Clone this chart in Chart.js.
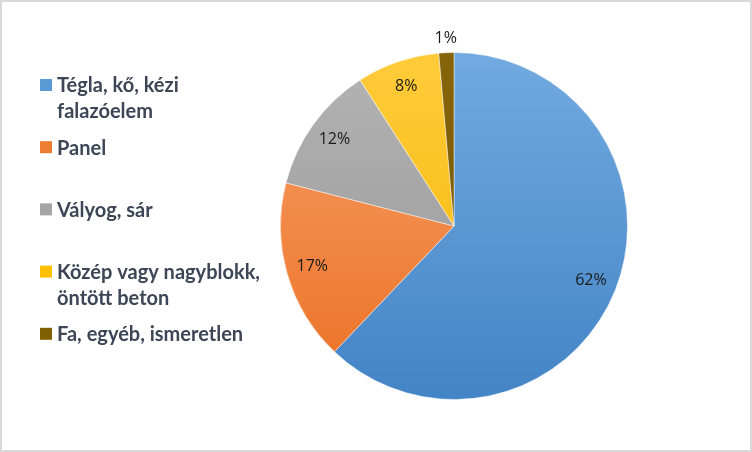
<!DOCTYPE html>
<html>
<head>
<meta charset="utf-8">
<script src="https://cdn.jsdelivr.net/npm/chart.js@4"></script>
<style>
  html, body { margin: 0; padding: 0; background: #fff; }
  #wrap { width: 752px; height: 452px; position: relative; }
</style>
</head>
<body>
<div id="wrap"><canvas id="pie" width="752" height="452"></canvas></div>
<script>
// adatok
const labels = ["Tégla, kő, kézi falazóelem", "Panel", "Vályog, sár", "Közép vagy nagyblokk, öntött beton", "Fa, egyéb, ismeretlen"]
const legendLines = [["Tégla, kő, kézi", "falazóelem"], ["Panel"], ["Vályog, sár"], ["Közép vagy nagyblokk,", "öntött beton"], ["Fa, egyéb, ismeretlen"]]
const values = [62.1, 16.9, 11.9, 7.7, 1.4]
const percentLabels = ["62%", "17%", "12%", "8%", "1%"]
const topColors = ["#72aae0", "#f7a06a", "#b4b4b4", "#ffcb3a", "#86650a"]
const bottomColors = ["#4384c6", "#eb7022", "#949494", "#f2b700", "#735400"]
const legendColors = ["#5b9bd5", "#ed7d31", "#a5a5a5", "#ffc000", "#7f6000"]

const ctx = document.getElementById('pie')

const frame = {
    id: 'frame',
    beforeDraw(chart) {
        const c = chart.ctx
        c.save()
        c.fillStyle = '#fff'
        c.fillRect(0, 0, chart.width, chart.height)
        c.strokeStyle = '#d9d9d9'
        c.lineWidth = 2
        c.strokeRect(1, 1, chart.width - 2, chart.height - 2)
        c.restore()
    }
}

// szazalek feliratok a szeletekre
const pctLabels = {
    id: 'pctLabels',
    afterDatasetsDraw(chart) {
        const c = chart.ctx
        const arcs = chart.getDatasetMeta(0).data
        c.save()
        c.font = '16px "Open Sans", "Noto Sans", sans-serif'
        c.fillStyle = '#1a1a1a'
        c.textAlign = 'center'
        c.textBaseline = 'middle'
        arcs.forEach((arc, i) => {
            const mid = (arc.startAngle + arc.endAngle) / 2
            const f = values[i] < 3 ? 1.08 : 0.85
            const r = arc.outerRadius * f
            c.fillText(percentLabels[i], arc.x + Math.cos(mid) * r, arc.y + Math.sin(mid) * r)
        })
        c.restore()
    }
}

// jelmagyarazat balra, Excel-szeruen ket soros tetelekkel
const sideLegend = {
    id: 'sideLegend',
    afterDraw(chart) {
        const c = chart.ctx
        c.save()
        c.font = 'bold 20px Lato, "Open Sans", sans-serif'
        c.textBaseline = 'middle'
        legendLines.forEach((lines, i) => {
            const y = 85 + i * 62.2
            c.fillStyle = legendColors[i]
            c.fillRect(40, y - 6, 12, 12)
            c.fillStyle = '#3d4656'
            lines.forEach((t, j) => c.fillText(t, 57, y + 1 + j * 26))
        })
        c.restore()
    }
}

function sliceFill(context) {
    const i = context.dataIndex
    const area = context.chart.chartArea
    if (!area) return legendColors[i]
    const g = context.chart.ctx.createLinearGradient(0, area.top, 0, area.bottom)
    g.addColorStop(0, topColors[i])
    g.addColorStop(1, bottomColors[i])
    return g
}

new Chart(ctx, {
    type: 'pie',
    data: {
        labels: labels,
        datasets: [{
            data: values,
            backgroundColor: sliceFill,
            borderColor: 'rgba(255,255,255,0.45)',
            borderWidth: 1
        }]
    },
    options: {
        responsive: false,
        animation: false,
        rotation: 0,
        layout: { padding: { left: 280, right: 124, top: 52, bottom: 52 } },
        plugins: {
            legend: { display: false },
            tooltip: { enabled: false }
        }
    },
    plugins: [frame, pctLabels, sideLegend]
})
</script>
</body>
</html>
